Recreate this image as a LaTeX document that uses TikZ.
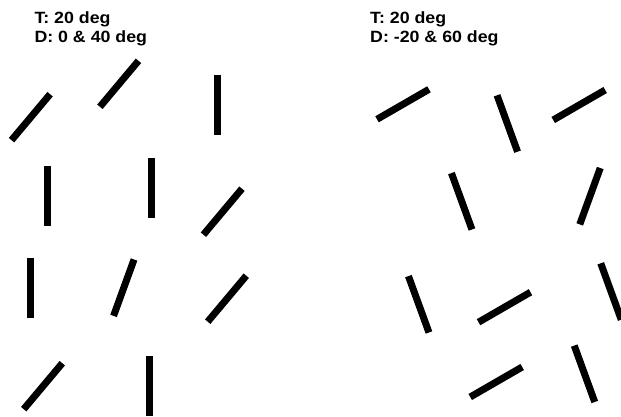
\documentclass[tikz,border=0pt]{standalone}
\usepackage{fontspec}
\usepackage{graphicx}
\usepackage{tikz}
\usetikzlibrary{positioning}
\newfontfamily\titlefont{Liberation Sans}
\newcommand{\wide}[1]{\scalebox{1.09}[1]{#1}}
\tikzset{
    bar/.style={line width=7pt, line cap=butt, black},
    title/.style={inner sep=0pt, anchor=base west, font=\titlefont\bfseries\fontsize{16.3}{19}\selectfont}
}

\begin{document}
\begin{tikzpicture}[x=1pt, y=-1pt]
        \useasboundingbox (0,0) rectangle (621,417);
        \clip (0,0) rectangle (621,417);
        % left panel
        \node[title] (lefttarget) at (34.3,24) {\wide{T: 20 deg}};
        \node[title] (leftdist) at (34.3,42.7) {\wide{D: 0 \& 40 deg}};
        \foreach \x/\y/\d in {30.8/117.2/40, 119.2/83.8/40, 217.7/104.7/0,
                              47/196/0, 151.7/188.2/0, 222.7/211.7/40,
                              30.3/287.5/0, 123.8/287.7/20, 227/298.7/40,
                              43/386.2/40, 149.7/386/0} {
            \draw[bar] (\x,\y) ++(\d-90:30) -- ++(\d+90:60);
        }
        % right panel
        \node[title] (righttarget) at (370,24) {\wide{T: 20 deg}};
        \node[title] (rightdist) at (370,42.7) {\wide{D: -20 \& 60 deg}};
        \foreach \x/\y/\d in {403/104.3/60, 507.3/123.5/-20, 579.2/105/60,
                              461.7/201.3/-20, 590/196.2/20,
                              418.7/304.3/-20, 504.5/307.2/60, 611/291.5/-20,
                              496.2/382/60, 584.5/373.8/-20} {
            \draw[bar] (\x,\y) ++(\d-90:30) -- ++(\d+90:60);
        }
    \end{tikzpicture}
\end{document}
